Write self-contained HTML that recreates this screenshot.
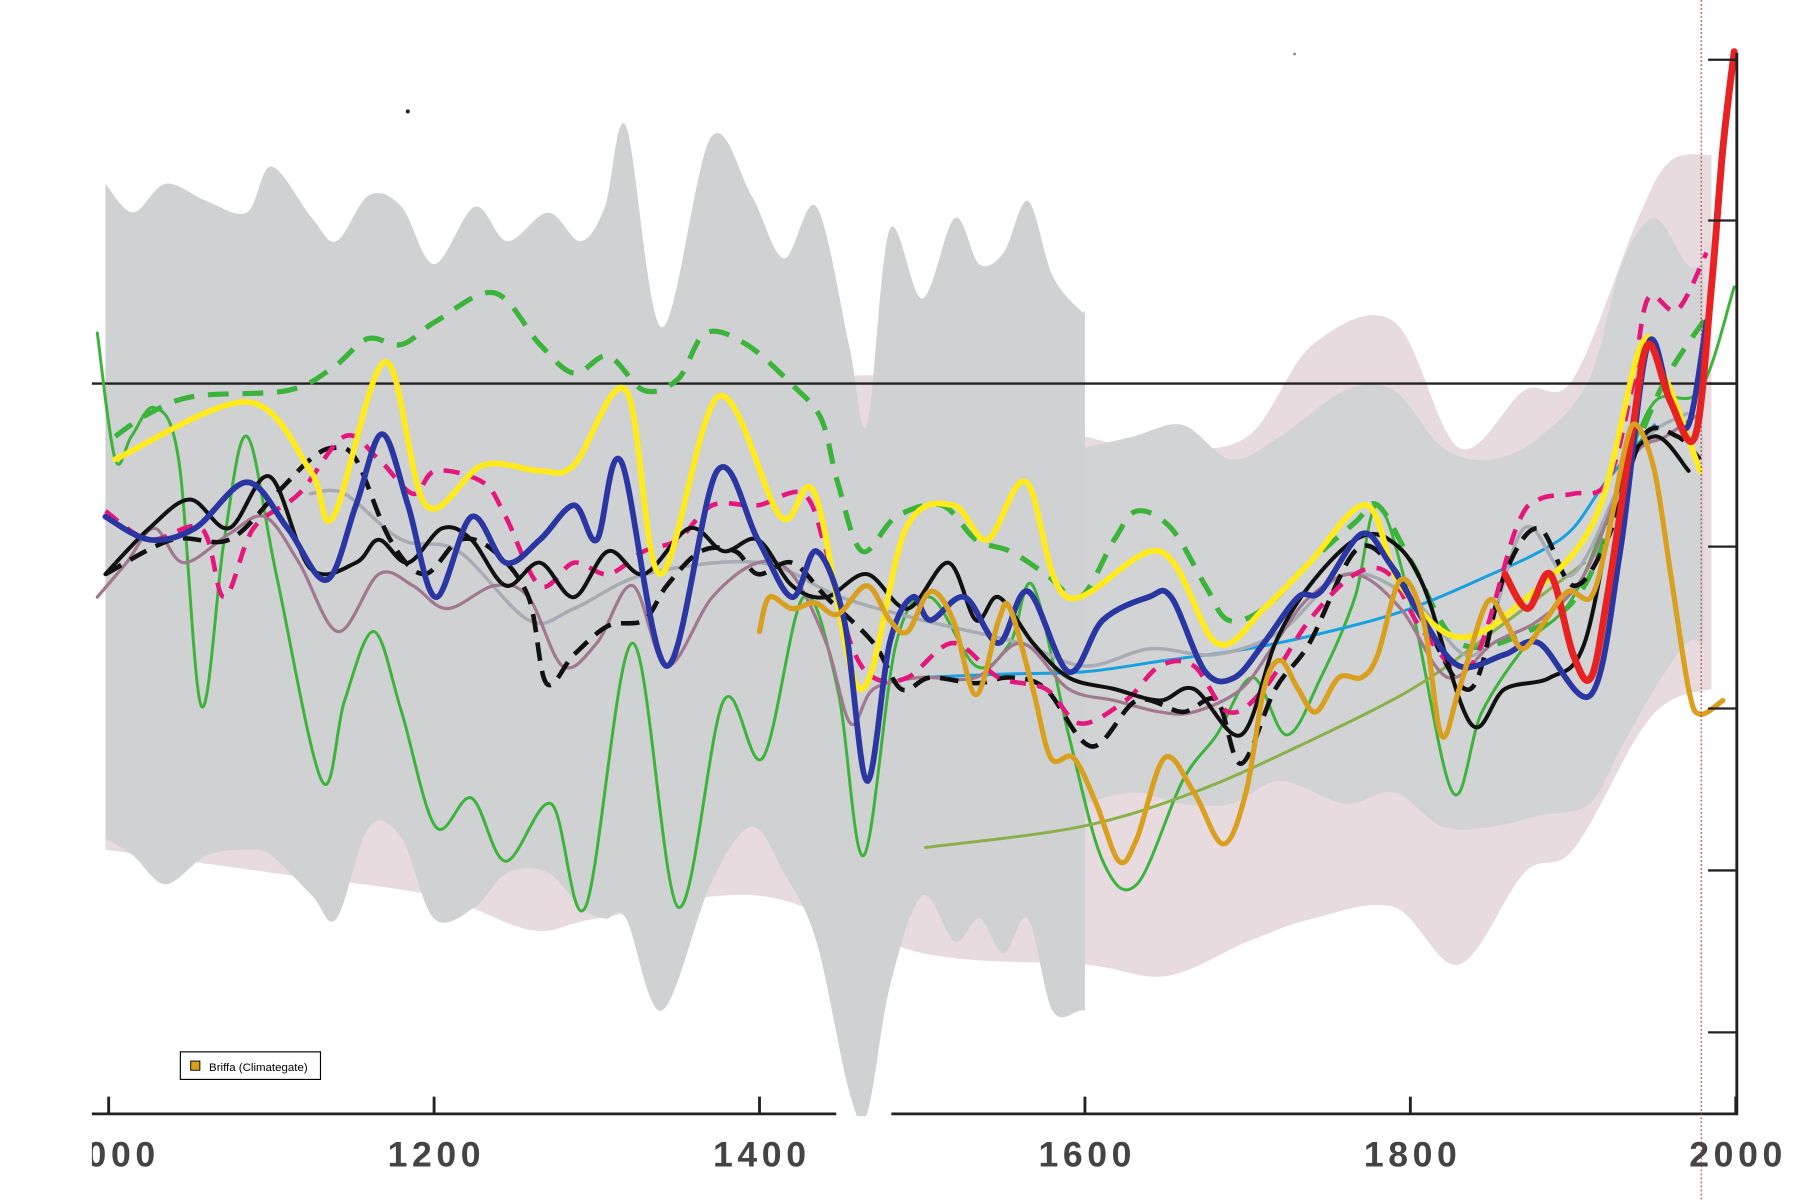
<!DOCTYPE html>
<html><head><meta charset="utf-8"><style>
html,body{margin:0;padding:0;background:#fff;}
svg{display:block;}
text{font-family:"Liberation Sans",sans-serif;}
</style></head><body>
<svg id="chart" width="1800" height="1200" viewBox="0 0 1567 1045" preserveAspectRatio="none" xmlns="http://www.w3.org/2000/svg">
<defs><clipPath id="plotclip"><rect x="80" y="0" width="1440" height="972"/></clipPath></defs>
<g id="bands" clip-path="url(#plotclip)"></g>
<line x1="80" y1="334" x2="1512" y2="334" stroke="#222" stroke-width="2"/>
<g id="lines" clip-path="url(#plotclip)"></g>
<g id="axes"></g>
<circle cx="355" cy="97" r="1.8" fill="#222"/>
<circle cx="1127" cy="47" r="1.2" fill="#888"/>
<line x1="1481" y1="0" x2="1481" y2="1045" stroke="#b03030" stroke-width="1" stroke-dasharray="1.5,2"/>
<g>
<rect x="157" y="916" width="122" height="24" fill="#fff" stroke="#000" stroke-width="1"/>
<rect x="166" y="924" width="8" height="8" fill="#d9a020" stroke="#000" stroke-width="0.8"/>
<text x="182" y="932.5" font-size="10" fill="#000">Briffa (Climategate)</text>
</g>
</svg>
<script>
// ---- data (value units: 282 units per 1 degC anomaly, 0 = reference line) ----
const xTicks = [1000, 1200, 1400, 1600, 1800, 2000];
const xTickLabels = ["1000", "1200", "1400", "1600", "1800", "2000"];
const yTicks = [282, 142, 0, -142, -283, -424, -565];

const gray1Years = [998,1015,1035,1060,1085,1100,1125,1140,1160,1180,1200,1225,1245,1270,1290,1305,1318,1340,1370,1395,1415,1435,1455,1466,1480,1500,1520,1535,1550,1565,1580,1597,1600];
const gray1Upper = [174,149,174,159,149,189,144,124,164,154,104,154,124,149,124,154,224,49,214,164,109,154,34,-36,134,74,144,104,114,159,94,64,64];
const gray1Lower = [-396,-411,-436,-411,-406,-411,-446,-466,-386,-396,-466,-456,-426,-426,-456,-466,-466,-546,-436,-386,-426,-486,-616,-636,-526,-446,-486,-466,-496,-466,-546,-546,-546];

const gray2Years = [1600,1630,1660,1690,1720,1760,1790,1820,1850,1880,1910,1930,1950,1970,1980];
const gray2Upper = [-56,-46,-36,-66,-46,-6,-6,-56,-66,-46,4,104,144,104,104];
const gray2Lower = [-366,-356,-366,-366,-346,-366,-356,-386,-386,-376,-366,-316,-266,-226,-226];

const pinkYears = [998,1100,1200,1260,1300,1400,1500,1600,1650,1700,1740,1790,1830,1870,1900,1940,1960,1985];
const pinkUpper = [54,34,14,4,14,4,4,-46,-56,-46,34,54,-56,-6,4,144,194,199];
const pinkLower = [-406,-426,-446,-476,-466,-446,-496,-506,-516,-486,-466,-456,-506,-426,-406,-306,-276,-266];

const greenThinYears = [993,1004,1014,1028,1043,1057,1071,1085,1103,1131,1145,1163,1180,1201,1223,1244,1272,1293,1322,1350,1378,1402,1427,1448,1464,1484,1505,1533,1554,1568,1590,1611,1632,1660,1681,1703,1724,1745,1766,1780,1801,1826,1844,1872,1900,1929,1950,1978,1999];
const greenThinValues = [44,-66,-46,-21,-66,-281,-136,-46,-166,-346,-276,-216,-286,-386,-361,-416,-366,-456,-226,-456,-276,-326,-186,-266,-411,-226,-186,-246,-226,-176,-306,-416,-436,-346,-306,-256,-306,-256,-186,-106,-196,-356,-286,-226,-186,-86,-16,-6,84];

const greenDashYears = [1004,1025,1053,1110,1138,1159,1180,1201,1237,1265,1286,1307,1329,1350,1367,1392,1420,1438,1448,1463,1484,1512,1533,1554,1576,1597,1618,1632,1653,1674,1688,1710,1738,1766,1780,1801,1830,1872,1907,1936,1957,1985];
const greenDashValues = [-46,-26,-11,-6,14,39,34,54,79,34,9,24,-6,4,44,34,-1,-31,-86,-146,-116,-106,-136,-146,-166,-186,-136,-111,-126,-176,-206,-196,-156,-121,-106,-156,-226,-216,-176,-66,4,64];

const oliveYears = [1502,1597,1667,1731,1801,1851,1907];
const oliveValues = [-404,-386,-356,-316,-266,-216,-156];

const cyanYears = [1500,1550,1600,1650,1700,1750,1800,1850,1880,1900,1920,1950];
const cyanValues = [-256,-253,-251,-241,-231,-216,-196,-166,-146,-126,-86,-36];

const grayLineYears = [1124,1145,1180,1215,1258,1286,1330,1400,1450,1500,1560,1600,1640,1680,1720,1760,1800,1840,1870,1900,1940,1970];
const grayLineValues = [-96,-96,-136,-146,-206,-196,-166,-156,-186,-206,-226,-246,-231,-236,-216,-166,-186,-236,-126,-166,-56,-26];

const mauveYears = [993,1011,1028,1046,1074,1096,1117,1141,1166,1187,1208,1237,1258,1279,1300,1322,1343,1371,1399,1420,1441,1456,1470,1498,1533,1561,1590,1618,1646,1667,1696,1717,1738,1766,1794,1823,1851,1879,1907,1936,1957,1978];
const mauveValues = [-186,-156,-126,-156,-131,-116,-156,-216,-166,-176,-196,-176,-186,-246,-226,-176,-246,-186,-156,-166,-226,-296,-266,-256,-256,-226,-266,-276,-286,-286,-266,-226,-186,-166,-196,-256,-226,-206,-166,-66,-46,-26];

const blackDashYears = [998,1039,1074,1103,1124,1138,1152,1173,1194,1216,1237,1258,1269,1286,1307,1329,1343,1364,1385,1399,1420,1441,1470,1487,1505,1533,1554,1576,1604,1632,1660,1681,1696,1717,1738,1766,1787,1808,1837,1858,1879,1900,1921,1943,1964,1978];
const blackDashValues = [-166,-136,-136,-96,-66,-56,-66,-136,-166,-136,-146,-186,-261,-236,-211,-206,-176,-146,-146,-166,-156,-186,-226,-266,-256,-261,-256,-266,-316,-276,-286,-276,-331,-266,-226,-146,-156,-206,-266,-166,-126,-176,-136,-46,-46,-66];

const magentaYears = [998,1025,1057,1071,1089,1117,1145,1166,1187,1201,1230,1244,1265,1286,1307,1329,1350,1371,1399,1427,1441,1456,1470,1491,1519,1547,1576,1597,1625,1646,1667,1688,1710,1738,1766,1787,1808,1837,1865,1879,1900,1921,1936,1946,1964,1982];
const magentaValues = [-111,-136,-126,-186,-126,-96,-46,-66,-96,-76,-86,-116,-176,-156,-166,-146,-136,-106,-106,-96,-146,-226,-256,-256,-226,-256,-266,-296,-276,-246,-246,-286,-266,-206,-166,-166,-216,-246,-126,-101,-96,-86,-6,74,64,114];

const blackYears = [998,1025,1050,1074,1099,1124,1152,1166,1184,1205,1223,1244,1265,1286,1307,1329,1357,1378,1399,1420,1441,1466,1491,1516,1533,1547,1568,1590,1618,1646,1667,1696,1717,1738,1766,1787,1808,1837,1858,1886,1907,1929,1950,1971];
const blackValues = [-166,-126,-101,-126,-81,-161,-156,-136,-156,-126,-136,-176,-156,-186,-146,-166,-126,-146,-136,-176,-186,-166,-196,-156,-206,-186,-226,-256,-266,-276,-266,-306,-226,-176,-136,-136,-176,-296,-266,-256,-226,-86,-46,-76];

const yellowYears = [1004,1085,1124,1138,1170,1195,1230,1265,1286,1318,1339,1375,1413,1434,1462,1490,1519,1540,1564,1589,1646,1681,1710,1738,1773,1794,1830,1872,1914,1942,1957,1978];
const yellowValues = [-66,-16,-76,-116,19,-106,-71,-76,-71,-6,-166,-11,-116,-96,-266,-126,-106,-136,-86,-186,-146,-226,-196,-156,-106,-176,-221,-186,-116,34,4,-76];

const blueYears = [998,1025,1053,1085,1110,1134,1152,1168,1184,1201,1223,1244,1265,1286,1300,1315,1343,1374,1399,1420,1435,1452,1466,1480,1494,1505,1526,1547,1565,1590,1611,1639,1653,1674,1692,1710,1731,1745,1770,1787,1808,1830,1858,1879,1911,1929,1946,1960,1971,1982];
const blueValues = [-116,-136,-126,-86,-126,-171,-106,-44,-106,-186,-116,-156,-136,-106,-136,-68,-246,-76,-136,-186,-146,-206,-346,-226,-186,-206,-186,-226,-181,-251,-206,-186,-186,-251,-256,-226,-186,-181,-131,-156,-206,-246,-236,-226,-271,-146,34,-16,-36,54];

const redYears = [1858,1872,1886,1900,1911,1921,1936,1946,1960,1975,1985,1992,1999];
const redValues = [-166,-196,-166,-236,-256,-186,-46,34,-16,-46,84,204,289];

const briffaYears = [1400,1406,1420,1434,1448,1466,1480,1491,1505,1519,1533,1547,1554,1568,1579,1593,1607,1621,1632,1649,1667,1685,1699,1710,1720,1731,1742,1756,1770,1780,1794,1808,1819,1830,1847,1858,1869,1883,1897,1911,1921,1932,1939,1950,1960,1971,1978,1992];
const briffaValues = [-216,-186,-196,-191,-201,-176,-206,-216,-181,-206,-271,-206,-196,-266,-326,-326,-366,-416,-396,-326,-356,-401,-356,-266,-241,-266,-286,-256,-256,-236,-171,-206,-306,-266,-191,-206,-231,-206,-181,-186,-136,-56,-36,-76,-166,-266,-288,-276];

// ---- axis functions ----
const X0 = 94.6, PX_PER_YEAR = 283.3 / 200;
function xScale(yr){ return X0 + (yr - 1000) * PX_PER_YEAR; }
function yScale(v){ return 334 - v; }

const NS = "http://www.w3.org/2000/svg";
function smoothPath(pts){
  if(pts.length < 2) return "";
  let d = "M" + pts[0][0].toFixed(1) + "," + pts[0][1].toFixed(1);
  for(let i=0;i<pts.length-1;i++){
    const p0 = pts[i-1] || pts[i], p1 = pts[i], p2 = pts[i+1], p3 = pts[i+2] || p2;
    const c1x = p1[0] + (p2[0]-p0[0])/6, c1y = p1[1] + (p2[1]-p0[1])/6;
    const c2x = p2[0] - (p3[0]-p1[0])/6, c2y = p2[1] - (p3[1]-p1[1])/6;
    d += " C" + c1x.toFixed(1)+","+c1y.toFixed(1)+" "+c2x.toFixed(1)+","+c2y.toFixed(1)+" "+p2[0].toFixed(1)+","+p2[1].toFixed(1);
  }
  return d;
}
function pts(years, vals){ return years.map((y,i)=>[xScale(y), yScale(vals[i])]); }

const bandsG = document.getElementById("bands");
function band(name, years, up, lo, color){
  const top = pts(years, up);
  const bot = pts(years, lo).reverse();
  const d = smoothPath(top) + " L" + smoothPath(bot).slice(1) + " Z";
  const p = document.createElementNS(NS, "path");
  p.setAttribute("d", d);
  p.setAttribute("fill", color);
  
  
  bandsG.appendChild(p);
}
band("pink-uncertainty-band", pinkYears, pinkUpper, pinkLower, "#e8dbe0");
band("gray-uncertainty-band", gray1Years, gray1Upper, gray1Lower, "#d0d1d3");
band("gray-uncertainty-band-late", gray2Years, gray2Upper, gray2Lower, "#d2d3d5");

const linesG = document.getElementById("lines");
function line(name, years, vals, color, w, dash){
  const p = document.createElementNS(NS, "path");
  p.setAttribute("d", smoothPath(pts(years, vals)));
  p.setAttribute("fill", "none");
  p.setAttribute("stroke", color);
  p.setAttribute("stroke-width", w);
  p.setAttribute("stroke-linejoin", "round");
  p.setAttribute("stroke-linecap", dash ? "butt" : "round");
  if(dash) p.setAttribute("stroke-dasharray", dash);
  
  
  linesG.appendChild(p);
}
line("series-green-thin", greenThinYears, greenThinValues, "#3cb43c", 2.6);
line("series-green-dashed", greenDashYears, greenDashValues, "#3cb43c", 4.5, "18,12");
line("series-olive", oliveYears, oliveValues, "#8ab04a", 2.6);
line("series-cyan", cyanYears, cyanValues, "#18a0e0", 2.6);
line("series-gray", grayLineYears, grayLineValues, "#a6abb4", 3);
line("series-mauve", mauveYears, mauveValues, "#a07890", 2.8);
line("series-black-dashed", blackDashYears, blackDashValues, "#111", 4, "16,9");
line("series-magenta-dashed", magentaYears, magentaValues, "#e4187c", 4, "14,10");
line("series-black", blackYears, blackValues, "#111", 3.5);
line("series-yellow", yellowYears, yellowValues, "#ffeb1c", 5);
line("series-blue", blueYears, blueValues, "#2a36a2", 5);
line("series-red", redYears, redValues, "#e82222", 6);
line("series-briffa", briffaYears, briffaValues, "#d9a020", 4.5);

const axesG = document.getElementById("axes");
function mk(tag, attrs){ const e = document.createElementNS(NS, tag); for(const k in attrs) e.setAttribute(k, attrs[k]); axesG.appendChild(e); return e; }
const xa1 = mk("line", {x1:80, y1:970, x2:728, y2:970, stroke:"#222", "stroke-width":2.5});


const xa2 = mk("line", {x1:776, y1:970, x2:1513, y2:970, stroke:"#222", "stroke-width":2.5});


const ya = mk("line", {x1:1512, y1:46, x2:1512, y2:971, stroke:"#222", "stroke-width":2.5});


xTicks.forEach((yr,i)=>{
  const x = xScale(yr);
  const t = mk("line", {x1:x, y1:955, x2:x, y2:970, stroke:"#222", "stroke-width":2.5});
  
  
  const lb = mk("text", {x:x+2, y:1016, "text-anchor":"middle", "font-size":31, "font-weight":"bold", "letter-spacing":"4", fill:"#444"});
  lb.textContent = xTickLabels[i];
  
  
});
yTicks.forEach(v=>{
  const y = yScale(v);
  const t = mk("line", {x1:1487, y1:y, x2:1512, y2:y, stroke:"#222", "stroke-width":2});
  
  
});
const cover = mk("rect", {x:0, y:975, width:80, height:70, fill:"#fff"});


</script>
</body></html>
